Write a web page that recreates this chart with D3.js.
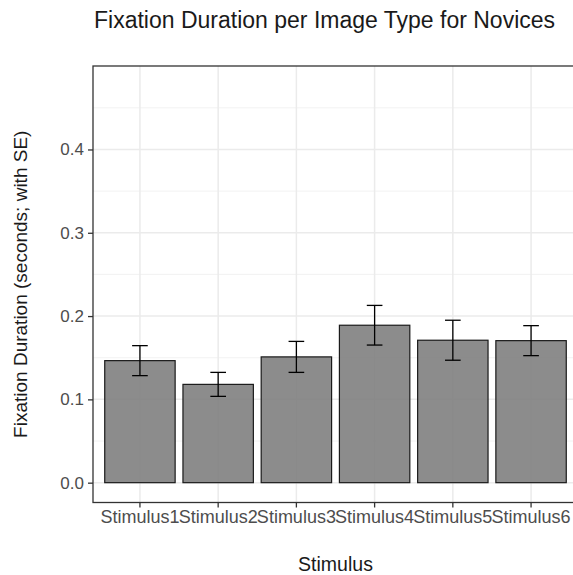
<!DOCTYPE html>
<html>
<head>
<meta charset="utf-8">
<script src="https://cdn.jsdelivr.net/npm/d3@7"></script>
<style>
  body { margin: 0; background: #fff; }
  svg text { font-family: "Liberation Sans", Arial, Helvetica, sans-serif; }
</style>
</head>
<body>
<div id="result"></div>
<script>
// values
const stimuli = ['Stimulus1', 'Stimulus2', 'Stimulus3', 'Stimulus4', 'Stimulus5', 'Stimulus6'];
const means = [0.1465, 0.118, 0.151, 0.189, 0.171, 0.1705];
const ses = [0.018, 0.0144, 0.0186, 0.0238, 0.024, 0.018];
const yTicks = [0, 0.1, 0.2, 0.3, 0.4];
const yMinor = [0.05, 0.15, 0.25, 0.35, 0.45];

const width = 573;
const height = 575;
// panel runs past the right edge of the picture, like the reference
const panel = { left: 93, top: 66, right: 578, bottom: 502.5 };

const svg = d3.select('#result')
    .append('svg')
    .attr('width', width)
    .attr('height', height);

const xScale = d3.scaleBand()
    .domain(stimuli)
    .range([panel.left, panel.right])
    .paddingInner(0.1)
    .paddingOuter(0.15);

const yScale = d3.scaleLinear()
    .domain([-0.0238, 0.5002])
    .range([panel.bottom, panel.top]);

const cx = d => xScale(d) + xScale.bandwidth() / 2;

// grid lines
const gridG = svg.append('g');

gridG.selectAll('.minor')
    .data(yMinor)
    .enter()
    .append('line')
        .attr('x1', panel.left)
        .attr('x2', panel.right)
        .attr('y1', d => yScale(d))
        .attr('y2', d => yScale(d))
        .attr('stroke', '#efefef')
        .attr('stroke-width', 0.8);

gridG.selectAll('.major')
    .data(yTicks)
    .enter()
    .append('line')
        .attr('x1', panel.left)
        .attr('x2', panel.right)
        .attr('y1', d => yScale(d))
        .attr('y2', d => yScale(d))
        .attr('stroke', '#ebebeb')
        .attr('stroke-width', 1.5);

gridG.selectAll('.vmajor')
    .data(stimuli)
    .enter()
    .append('line')
        .attr('x1', cx)
        .attr('x2', cx)
        .attr('y1', panel.top)
        .attr('y2', panel.bottom)
        .attr('stroke', '#ebebeb')
        .attr('stroke-width', 1.5);

// bars
svg.append('g')
    .selectAll('rect')
    .data(stimuli)
    .enter()
    .append('rect')
        .attr('x', d => xScale(d))
        .attr('width', xScale.bandwidth())
        .attr('y', (d, i) => yScale(means[i]))
        .attr('height', (d, i) => yScale(0) - yScale(means[i]))
        .attr('fill', '#7f7f7f')
        .attr('fill-opacity', 0.9)
        .attr('stroke', '#1a1a1a')
        .attr('stroke-width', 1.2);

// error bars
const capHalf = xScale.step() * 0.1;
const errG = svg.append('g')
    .attr('stroke', '#000')
    .attr('stroke-width', 1.3);

stimuli.forEach((s, i) => {
    const x = cx(s);
    const lo = yScale(means[i] - ses[i]);
    const hi = yScale(means[i] + ses[i]);
    errG.append('line').attr('x1', x).attr('x2', x).attr('y1', lo).attr('y2', hi);
    errG.append('line').attr('x1', x - capHalf).attr('x2', x + capHalf).attr('y1', lo).attr('y2', lo);
    errG.append('line').attr('x1', x - capHalf).attr('x2', x + capHalf).attr('y1', hi).attr('y2', hi);
});

// panel border
svg.append('rect')
    .attr('x', panel.left)
    .attr('y', panel.top)
    .attr('width', panel.right - panel.left)
    .attr('height', panel.bottom - panel.top)
    .attr('fill', 'none')
    .attr('stroke', '#333333')
    .attr('stroke-width', 1.3);

// y axis
const yAxis = d3.axisLeft(yScale)
    .tickValues(yTicks)
    .tickFormat(d3.format('.1f'))
    .tickSize(5)
    .tickPadding(4);

const yAxisG = svg.append('g')
    .attr('transform', `translate(${panel.left}, 0)`)
    .call(yAxis);
yAxisG.select('.domain').remove();
yAxisG.selectAll('.tick line').attr('stroke', '#333333').attr('stroke-width', 1.3);
yAxisG.selectAll('.tick text')
    .attr('fill', '#4d4d4d')
    .style('font-size', '17px')
    .style('font-family', '"Liberation Sans", Arial, sans-serif');

// x axis
const xAxis = d3.axisBottom(xScale)
    .tickSize(5)
    .tickPadding(3);

const xAxisG = svg.append('g')
    .attr('transform', `translate(0, ${panel.bottom})`)
    .call(xAxis);
xAxisG.select('.domain').remove();
xAxisG.selectAll('.tick line').attr('stroke', '#333333').attr('stroke-width', 1.3);
xAxisG.selectAll('.tick text')
    .attr('fill', '#4d4d4d')
    .style('font-size', '18px')
    .style('font-family', '"Liberation Sans", Arial, sans-serif');

// titles
svg.append('text')
    .attr('x', panel.left + 1)
    .attr('y', 27.5)
    .attr('fill', '#1a1a1a')
    .style('font-size', '23px')
    .text('Fixation Duration per Image Type for Novices');

svg.append('text')
    .attr('x', (panel.left + panel.right) / 2)
    .attr('y', 570.5)
    .attr('text-anchor', 'middle')
    .attr('fill', '#1a1a1a')
    .style('font-size', '19.5px')
    .text('Stimulus');

svg.append('text')
    .attr('transform', `translate(27, ${(panel.top + panel.bottom) / 2}) rotate(-90)`)
    .attr('text-anchor', 'middle')
    .attr('fill', '#1a1a1a')
    .style('font-size', '19px')
    .text('Fixation Duration (seconds; with SE)');
</script>
</body>
</html>
